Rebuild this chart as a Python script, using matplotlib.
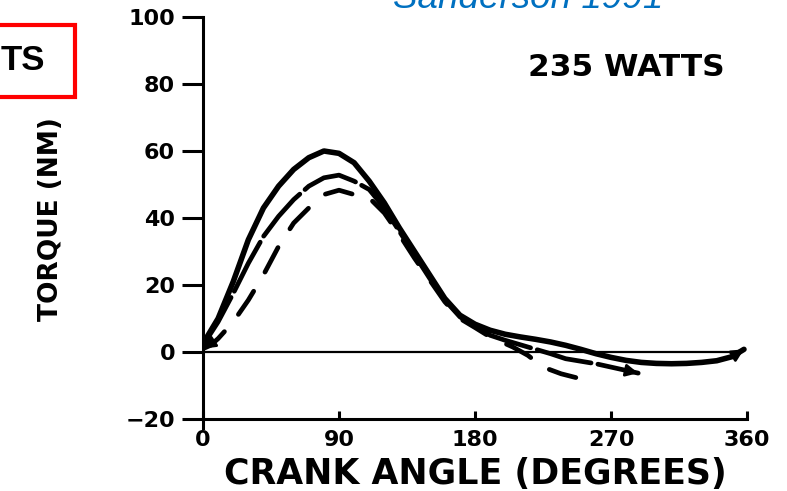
import numpy as np
import matplotlib.pyplot as plt
from matplotlib.patches import Rectangle

plt.rcParams['lines.scale_dashes'] = False

# crank angle (deg) and torque (Nm), three traces at 235 W
ang_a = [0, 10, 20, 30, 40, 50, 60, 70, 80, 90, 100, 110, 120, 130, 140, 150, 160, 170,
         180, 190, 200, 210, 220, 230, 240, 250, 260, 270, 280, 290, 300, 310, 320, 330,
         340, 350, 358]
torque_a = [2.5, 10, 21, 33.5, 43, 49.5, 54.5, 58, 60, 59.3, 56.5, 51, 44.5, 37, 30, 23, 16, 11,
            8.3, 6.5, 5.3, 4.5, 3.8, 3.0, 2.0, 0.8, -0.5, -1.6, -2.5, -3.1, -3.4, -3.5, -3.4, -3.1,
            -2.6, -1.4, 0.8]

ang_b = [0, 10, 20, 30, 40, 50, 60, 70, 80, 90, 100, 110, 120, 130, 140, 150, 160, 170,
         180, 190, 200, 215, 230, 240, 260, 280, 288]
torque_b = [2, 9, 17.5, 26.5, 34.5, 40.5, 45.5, 49.5, 52, 52.8, 51, 48.5, 43, 36, 29, 22, 15.5, 10.5,
            7.8, 5, 3.5, 1.5, -0.5, -2, -3.5, -5.5, -6.3]

ang_c = [0, 5, 10, 20, 30, 40, 50, 60, 70, 80, 90, 100, 110, 120, 130, 140, 150, 160, 170,
         180, 190, 205, 215, 225, 237, 250]
torque_c = [1, 2, 4, 9, 15.5, 23, 31.5, 38.5, 43, 47, 48.3, 47, 46, 41.5, 35, 28, 21.5, 15, 10,
            7.3, 4.5, 1.5, -1, -4.5, -6.5, -8]

xticks = [0, 90, 180, 270, 360]
yticks = [-20, 0, 20, 40, 60, 80, 100]

W, H = 787, 491
fig = plt.figure(figsize=(W / 100, H / 100), dpi=100)
ax = fig.add_axes([203 / W, 1 - 428.4 / H, 544 / W, (428.4 - 17) / H])

ax.plot(ang_a, torque_a, color='k', lw=4, solid_capstyle='round', solid_joinstyle='round')
ax.plot(ang_b, torque_b, color='k', lw=3.4, dashes=(40, 5), dash_capstyle='round')
ax.plot(ang_c, torque_c, color='k', lw=3.4, dashes=(20, 16), dash_capstyle='round')

# zero reference line
ax.axhline(0, xmin=0, xmax=352 / 360, color='k', lw=1.6)

arrow = dict(arrowstyle='-|>', color='k', lw=2, mutation_scale=18, shrinkA=0, shrinkB=0)
ax.annotate('', xy=(ang_c[0], torque_c[0]), xytext=(ang_c[2], torque_c[2]), arrowprops=arrow)
ax.annotate('', xy=(ang_b[-1], torque_b[-1]), xytext=(ang_b[-2], torque_b[-2]), arrowprops=arrow)
ax.annotate('', xy=(ang_a[-1], torque_a[-1]), xytext=(ang_a[-2], torque_a[-2]), arrowprops=arrow)

ax.set_xlim(0, 360)
ax.set_ylim(-22.8, 100)
for s in ['top', 'right']:
    ax.spines[s].set_visible(False)
ax.spines['bottom'].set_position(('data', -20))
ax.spines['left'].set_linewidth(2.2)
ax.spines['bottom'].set_linewidth(2.2)

ax.set_xticks(xticks)
ax.set_yticks(yticks)
ax.tick_params(axis='y', direction='out', length=15, width=2.2, pad=5)
ax.tick_params(axis='x', direction='in', length=6, width=2.2, pad=8)
for lab in ax.get_xticklabels() + ax.get_yticklabels():
    lab.set_fontweight('bold')
    lab.set_fontsize(16)

fig.text(475 / W, 1 - 474 / H, 'CRANK ANGLE (DEGREES)', ha='center', va='center',
         fontsize=25, fontweight='bold')
fig.text(51 / W, 1 - 219 / H, 'TORQUE (NM)', ha='center', va='center', rotation=90,
         fontsize=19, fontweight='bold')
fig.text(626 / W, 1 - 68 / H, '235 WATTS', ha='center', va='center',
         fontsize=22.5, fontweight='bold')

fig.text(393 / W, 1 - 8 / H, 'Sanderson 1991', ha='left', va='baseline',
         fontsize=26.5, style='italic', color='#0070C0', family='Liberation Sans')

fig.add_artist(Rectangle((-10 / W, 1 - 97 / H), 85 / W, 72 / H, transform=fig.transFigure,
                         fill=False, ec='#FF0000', lw=3, clip_on=False))
fig.text(1 / W, 1 - 61 / H, 'TS', ha='left', va='center', fontsize=25,
         fontweight='bold', family='Liberation Sans')

fig.savefig('out.png', dpi=100)
